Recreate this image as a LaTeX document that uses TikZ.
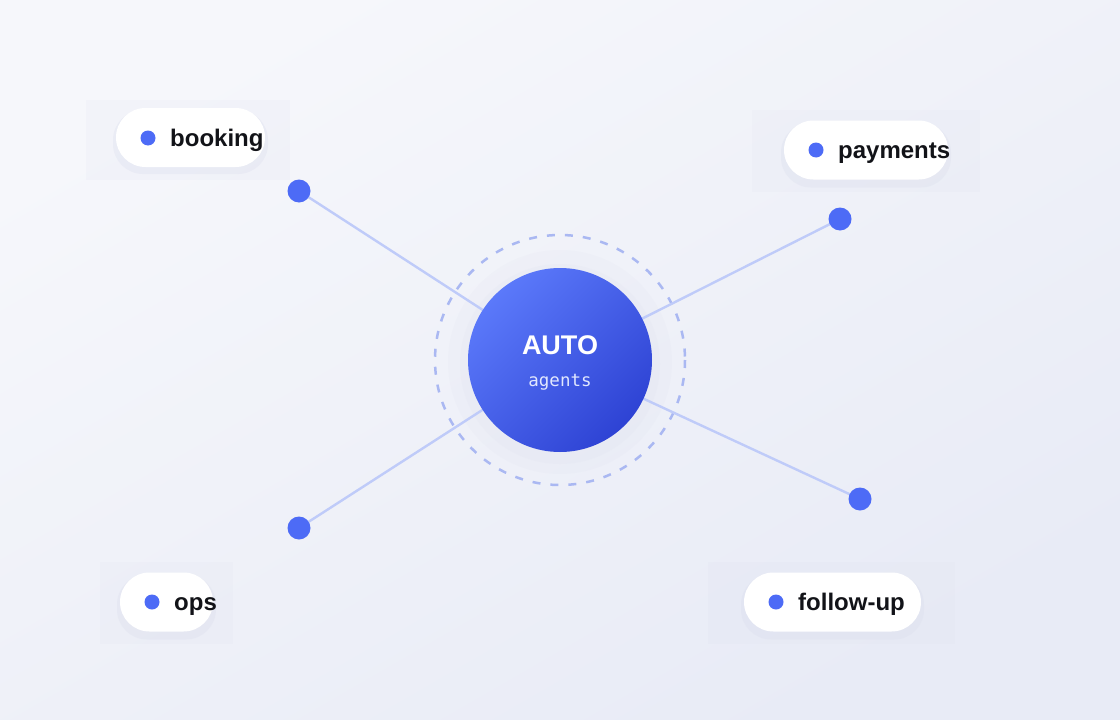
\documentclass[tikz,border=0pt]{standalone}
\usepackage{fontspec}
\setmainfont{Liberation Sans}
\newfontfamily\monof{DejaVu Sans Mono}
\usetikzlibrary{shadings}
\definecolor{bgA}{HTML}{F6F7FB}
\definecolor{bgB}{HTML}{E8EBF6}
\definecolor{accent}{HTML}{4D6BF6}
\definecolor{linkc}{HTML}{BFCBF9}
\definecolor{dashc}{HTML}{AAB8F2}
\definecolor{hubA}{HTML}{5B79FA}
\definecolor{hubB}{HTML}{2E43D4}
\definecolor{txt}{HTML}{121318}
\definecolor{shad}{HTML}{D9DCEC}
\pgfdeclarelayer{back}
\pgfdeclarelayer{mid}
\pgfsetlayers{back,mid,main}
\tikzset{
  pill/.style={fill=white, rounded corners=29.5pt, minimum height=59pt, inner sep=0pt},
  pillshadow/.style={fill=shad, opacity=0.3, rounded corners=30pt, inner sep=0pt},
  endpt/.style={circle, fill=accent, minimum size=23pt, inner sep=0pt},
  bullet/.style={circle, fill=accent, minimum size=15pt, inner sep=0pt},
  lab/.style={anchor=base west, inner sep=0pt, font=\fontsize{24}{27}\selectfont\bfseries, text=txt},
  link/.style={draw=linkc, line width=2.4pt},
}
\begin{document}
\begin{tikzpicture}[x=1pt,y=-1pt]
\begin{pgfonlayer}{back}
\shade[left color=bgA, right color=bgB, shading angle=30] (0,0) rectangle (1120,720);
\useasboundingbox (0,0) rectangle (1120,720);
% soft shadow areas behind pills
\fill[shad, opacity=0.12] (86,100) rectangle (290,180);
\fill[shad, opacity=0.12] (752,110) rectangle (980,192);
\fill[shad, opacity=0.12] (100,562) rectangle (233,644);
\fill[shad, opacity=0.12] (708,562) rectangle (955,644);
% halo around hub
\fill[shad, opacity=0.12] (560,362) circle (112);
\fill[shad, opacity=0.15] (560,364) circle (100);
\end{pgfonlayer}

% pill shadows
\node[pillshadow, minimum width=155pt, minimum height=64pt] (s1) at (190.5,142) {};
\node[pillshadow, minimum width=170pt, minimum height=65pt] (s2) at (866,155) {};
\node[pillshadow, minimum width=99pt, minimum height=65pt] (s3) at (166.5,607) {};
\node[pillshadow, minimum width=183pt, minimum height=65pt] (s4) at (832.5,607) {};

% pills
\node[pill, minimum width=149pt] (p1) at (190.5,137.5) {};
\node[pill, minimum width=164pt] (p2) at (866,150) {};
\node[pill, minimum width=93pt] (p3) at (166.5,602) {};
\node[pill, minimum width=177pt] (p4) at (832.5,602) {};

\node[bullet] (b1) at (148,138) {};
\node[lab] (t1) at (170,146) {booking};
\node[bullet] (b2) at (816,150) {};
\node[lab] (t2) at (838,158) {payments};
\node[bullet] (b3) at (152,602) {};
\node[lab] (t3) at (174,610) {ops};
\node[bullet] (b4) at (776,602) {};
\node[lab] (t4) at (798,610) {follow-up};

% hub
\node[circle, minimum size=184pt, inner sep=0pt, shading=axis, left color=hubA, right color=hubB, shading angle=45] (hub) at (560,360) {};
\node[inner sep=0pt, text=white, font=\fontsize{27}{30}\selectfont\bfseries] (auto) at (560,345) {AUTO};
\node[inner sep=0pt, text=white!82!hubA, font=\fontsize{17.5}{20}\monof] (ag) at (560,382) {agents};

% endpoints
\node[endpt] (d1) at (299,191) {};
\node[endpt] (d2) at (840,219) {};
\node[endpt] (d3) at (299,528) {};
\node[endpt] (d4) at (860,499) {};

\begin{pgfonlayer}{mid}
\draw[dashc, line width=2.5pt, dash pattern=on 8pt off 10pt] (hub.center) circle (125);
\draw[link] (d1.center) -- (hub.center);
\draw[link] (d2.center) -- (hub.center);
\draw[link] (d3.center) -- (hub.center);
\draw[link] (d4.center) -- (hub.center);
\end{pgfonlayer}
\end{tikzpicture}
\end{document}
